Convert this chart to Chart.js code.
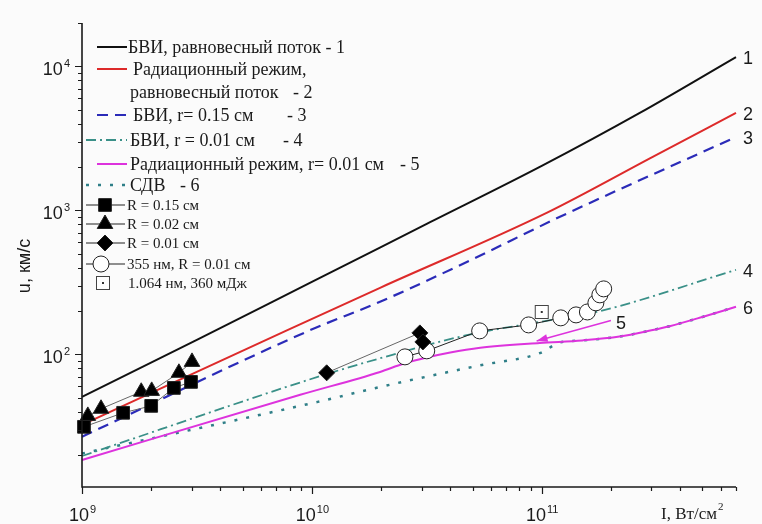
<!DOCTYPE html>
<html>
<head>
<meta charset="utf-8">
<script src="https://cdn.jsdelivr.net/npm/chart.js"></script>
<style>
  html, body { margin: 0; padding: 0; background: #fbfbfb; }
  #wrap { width: 762px; height: 524px; position: relative; }
</style>
</head>
<body>
<div id="wrap"><canvas id="speedChart"></canvas></div>
<script>
// Пределы осей: I, Вт/см2 и u, км/с
const xMin = 1e9, xMax = 7e11;
const yMin = 12, yMax = 2e4;
const xDecades = [9, 10, 11];
const yDecades = [2, 3, 4];

// Расчётные кривые
const bviEqX = [1e9, 3.16e9, 1e10, 3.16e10, 1e11, 2.67e11, 7e11];
const bviEqY = [50.7, 126, 319, 805, 2035, 4750, 11600];

const radEqX = [1e9, 7.87e9, 1.98e10, 1.05e11, 3.04e11, 7e11];
const radEqY = [32.4, 148, 290, 961, 2355, 4750];

const bvi015X = [1e9, 9.9e9, 1.98e10, 4.72e10, 1.2e11, 7e11];
const bvi015Y = [26.8, 148, 232, 438, 902, 3235];

const bvi001X = [1e9, 1.06e10, 1.98e10, 4.72e10, 9.8e10, 1.73e11, 7e11];
const bvi001Y = [19.7, 69.8, 94, 136, 168, 197, 386];

const rad001X = [1e9, 8.9e9, 1.98e10, 2.5e10, 3.16e10, 4e10, 5.4e10, 9.8e10, 1.5e11, 2.18e11, 3e11, 3.6e11, 5e11, 7e11];
const rad001Y = [18.5, 52.4, 75.5, 86, 95, 103, 111, 120, 125, 133, 147, 157, 182, 214];

const sdvX = [1e9, 1.06e10, 1.98e10, 5.4e10, 9.8e10, 1.2e11, 1.5e11, 2.18e11, 3e11, 3.6e11, 5e11, 7e11];
const sdvY = [20.5, 46.8, 59.4, 84, 102, 121, 125, 133, 147, 157, 182, 214];

// Эксперимент
const r015X = [1.02e9, 1.51e9, 2.0e9, 2.51e9, 2.98e9];
const r015Y = [31.4, 39.3, 43.9, 58.5, 64.4];

const r002X = [1.06e9, 1.21e9, 1.81e9, 2.01e9, 2.64e9, 3.01e9];
const r002Y = [37.4, 41.9, 55.0, 55.8, 74.5, 88.7];

const r001X = [1.16e10, 2.95e10, 3.04e10];
const r001Y = [74.5, 141, 122];

const uv355X = [2.54e10, 3.16e10, 5.37e10, 8.77e10, 1.21e11, 1.41e11, 1.58e11, 1.72e11, 1.79e11, 1.86e11];
const uv355Y = [96.1, 105.8, 145.6, 160.2, 179.3, 188, 197, 228, 259, 285];

const ir1064X = [1.0e11];
const ir1064Y = [197];

// Стрелка к кривой 5
const arrow5 = { fromX: 2.0e11, fromY: 172, toX: 9.5e10, toY: 124 };

function pts(xs, ys) {
  return xs.map((x, i) => ({ x: x, y: ys[i] }));
}

// Квадрат с точкой для 1.064
function squareDot() {
  const c = document.createElement('canvas');
  c.width = 16; c.height = 16;
  const g = c.getContext('2d');
  g.fillStyle = '#fff';
  g.fillRect(1, 1, 14, 14);
  g.strokeStyle = '#444';
  g.lineWidth = 1;
  g.strokeRect(1.5, 1.5, 13, 13);
  g.fillStyle = '#333';
  g.fillRect(7, 7, 2, 2);
  return c;
}

const curve = (label, xs, ys, color, width, dash, tag) => ({
  label: label, tag: tag,
  data: pts(xs, ys),
  showLine: true,
  borderColor: color,
  borderWidth: width,
  borderDash: dash,
  pointRadius: 0,
  cubicInterpolationMode: 'monotone',
  order: 2
});

const markers = (label, xs, ys, style, radius, fill, line) => ({
  label: label,
  data: pts(xs, ys),
  showLine: line !== null,
  borderColor: line || 'transparent',
  borderWidth: 1,
  pointStyle: style,
  pointRadius: radius,
  pointBackgroundColor: fill,
  pointBorderColor: '#222',
  pointBorderWidth: 1,
  order: 1
});

const datasets = [
  curve('БВИ, равновесный поток - 1', bviEqX, bviEqY, '#111', 2, [], '1'),
  curve('Радиационный режим, равновесный поток - 2', radEqX, radEqY, '#dd2a2a', 2, [], '2'),
  curve('БВИ, r= 0.15 см - 3', bvi015X, bvi015Y, '#2b2bb8', 2.2, [11, 7], '3'),
  curve('БВИ, r = 0.01 см - 4', bvi001X, bvi001Y, '#3a9088', 1.8, [10, 4, 2, 4], '4'),
  curve('Радиационный режим, r= 0.01 см - 5', rad001X, rad001Y, '#dd33dd', 2, [], '6'),
  curve('СДВ - 6', sdvX, sdvY, '#2f7f88', 2.5, [3, 9], null),
  markers('R = 0.15 см', r015X, r015Y, 'rect', 9, '#000', '#666'),
  markers('R = 0.02 см', r002X, r002Y, 'triangle', 9, '#000', '#666'),
  markers('R = 0.01 см', r001X, r001Y, 'rectRot', 8, '#000', '#666'),
  markers('355 нм, R = 0.01 см', uv355X, uv355Y, 'circle', 8, '#fff', '#222'),
  markers('1.064 нм, 360 мДж', ir1064X, ir1064Y, squareDot(), 8, '#fff', null)
];

function drawPow(ctx, exp, x, y, align) {
  ctx.font = '18px "Liberation Sans", Arial, sans-serif';
  const wb = ctx.measureText('10').width;
  ctx.font = '11px "Liberation Sans", Arial, sans-serif';
  const we = ctx.measureText(String(exp)).width;
  let left = x;
  if (align === 'center') left = x - (wb + we) / 2;
  if (align === 'right') left = x - wb - we;
  ctx.textAlign = 'left';
  ctx.textBaseline = 'alphabetic';
  ctx.font = '18px "Liberation Sans", Arial, sans-serif';
  ctx.fillText('10', left, y);
  ctx.font = '11px "Liberation Sans", Arial, sans-serif';
  ctx.fillText(String(exp), left + wb + 1, y - 8);
}

// Оси, деления, подписи
const axesPlugin = {
  id: 'axesPlugin',
  afterDatasetsDraw(chart) {
    const ctx = chart.ctx, a = chart.chartArea;
    const xs = chart.scales.x, ys = chart.scales.y;
    ctx.save();
    ctx.strokeStyle = '#1a1a1a';
    ctx.fillStyle = '#1a1a1a';
    ctx.lineWidth = 1.6;
    ctx.beginPath();
    ctx.moveTo(a.left, a.top);
    ctx.lineTo(a.left, a.bottom);
    ctx.lineTo(a.right, a.bottom);
    ctx.stroke();

    ctx.lineWidth = 1.2;
    ctx.beginPath();
    for (let d = 9; d <= 11; d++) {
      for (let m = 1; m <= 9; m++) {
        const v = m * Math.pow(10, d);
        if (v < xMin || v > xMax * 1.001) continue;
        const px = Math.round(xs.getPixelForValue(v)) + 0.5;
        ctx.moveTo(px, a.bottom);
        ctx.lineTo(px, a.bottom + (m === 1 ? 7 : 4));
      }
    }
    for (let d = 1; d <= 4; d++) {
      for (let m = 1; m <= 9; m++) {
        const v = m * Math.pow(10, d);
        if (v < yMin || v > yMax * 1.001) continue;
        const py = Math.round(ys.getPixelForValue(v)) + 0.5;
        ctx.moveTo(a.left, py);
        ctx.lineTo(a.left - (m === 1 ? 7 : 4), py);
      }
    }
    ctx.stroke();

    xDecades.forEach(d => drawPow(ctx, d, xs.getPixelForValue(Math.pow(10, d)), a.bottom + 34, 'center'));
    yDecades.forEach(d => drawPow(ctx, d, a.left - 13, ys.getPixelForValue(Math.pow(10, d)) + 9, 'right'));

    // Подписи осей
    ctx.save();
    ctx.translate(30, 266);
    ctx.rotate(-Math.PI / 2);
    ctx.font = '18px "Liberation Sans", Arial, sans-serif';
    ctx.textAlign = 'center';
    ctx.textBaseline = 'alphabetic';
    ctx.fillText('u, км/с', 0, 0);
    ctx.restore();

    ctx.font = '17px "Liberation Serif", "Times New Roman", serif';
    ctx.textAlign = 'left';
    ctx.textBaseline = 'alphabetic';
    ctx.fillText('I, Вт/см', 661, 519);
    const w = ctx.measureText('I, Вт/см').width;
    ctx.font = '11px "Liberation Serif", "Times New Roman", serif';
    ctx.fillText('2', 661 + w + 1, 510);

    // Номера кривых у правого края
    ctx.font = '18px "Liberation Sans", Arial, sans-serif';
    ctx.textBaseline = 'middle';
    chart.data.datasets.forEach(ds => {
      if (!ds.tag) return;
      const last = ds.data[ds.data.length - 1];
      ctx.fillText(ds.tag, a.right + 7, ys.getPixelForValue(last.y) + 2);
    });

    // Стрелка и метка 5
    const x0 = xs.getPixelForValue(arrow5.fromX), y0 = ys.getPixelForValue(arrow5.fromY);
    const x1 = xs.getPixelForValue(arrow5.toX), y1 = ys.getPixelForValue(arrow5.toY);
    ctx.strokeStyle = '#dd33dd';
    ctx.fillStyle = '#dd33dd';
    ctx.lineWidth = 1.5;
    ctx.beginPath();
    ctx.moveTo(x0, y0);
    ctx.lineTo(x1, y1);
    ctx.stroke();
    const ang = Math.atan2(y1 - y0, x1 - x0);
    ctx.beginPath();
    ctx.moveTo(x1, y1);
    ctx.lineTo(x1 - 11 * Math.cos(ang) + 4 * Math.sin(ang), y1 - 11 * Math.sin(ang) - 4 * Math.cos(ang));
    ctx.lineTo(x1 - 11 * Math.cos(ang) - 4 * Math.sin(ang), y1 - 11 * Math.sin(ang) + 4 * Math.cos(ang));
    ctx.closePath();
    ctx.fill();
    ctx.fillStyle = '#1a1a1a';
    ctx.font = '18px "Liberation Sans", Arial, sans-serif';
    ctx.fillText('5', x0 + 5, y0 + 4);
    ctx.restore();
  }
};

// Легенда в левом верхнем углу
const legendPlugin = {
  id: 'legendPlugin',
  afterDraw(chart) {
    const ctx = chart.ctx;
    const ds = chart.data.datasets;
    const big = '18px "Liberation Serif", "Times New Roman", serif';
    const small = '15px "Liberation Serif", "Times New Roman", serif';
    ctx.save();
    ctx.fillStyle = '#1a1a1a';
    ctx.textBaseline = 'middle';
    ctx.textAlign = 'left';

    function sample(d, x0, x1, y) {
      ctx.save();
      ctx.strokeStyle = d.borderColor;
      ctx.lineWidth = d.borderWidth;
      ctx.setLineDash(d.borderDash || []);
      ctx.beginPath();
      ctx.moveTo(x0, y);
      ctx.lineTo(x1, y);
      ctx.stroke();
      ctx.restore();
    }
    function text(t, x, y, font) {
      ctx.font = font;
      ctx.fillText(t, x, y);
    }

    sample(ds[0], 97, 127, 47);
    text('БВИ, равновесный поток - 1', 128, 48, big);
    sample(ds[1], 97, 127, 69);
    text('Радиационный режим,', 133, 70, big);
    text('равновесный поток', 130, 93, big);
    text('- 2', 293, 93, big);
    sample(ds[2], 97, 127, 115);
    text('БВИ, r= 0.15 см', 133, 116, big);
    text('- 3', 287, 116, big);
    sample(ds[3], 86, 127, 140);
    text('БВИ, r = 0.01 см', 130, 141, big);
    text('- 4', 283, 141, big);
    sample(ds[4], 97, 127, 164);
    text('Радиационный режим, r= 0.01 см', 130, 165, big);
    text('- 5', 400, 165, big);
    sample(ds[5], 86, 127, 185);
    text('СДВ', 130, 186, big);
    text('- 6', 180, 186, big);

    const rows = [[6, 205], [7, 224], [8, 243], [9, 264]];
    rows.forEach(([i, y]) => {
      const d = ds[i];
      ctx.save();
      ctx.strokeStyle = '#222';
      ctx.lineWidth = 1.2;
      ctx.beginPath();
      ctx.moveTo(86, y);
      ctx.lineTo(125, y);
      ctx.stroke();
      ctx.fillStyle = d.pointBackgroundColor;
      ctx.strokeStyle = d.pointBorderColor;
      ctx.lineWidth = 1;
      Chart.helpers.drawPoint(ctx, { pointStyle: d.pointStyle, radius: d.pointRadius, borderWidth: 1, rotation: 0 }, i === 9 ? 101 : 105, y);
      ctx.restore();
      text(d.label, 127, y + 1, small);
    });
    Chart.helpers.drawPoint(ctx, { pointStyle: ds[10].pointStyle, radius: 8, borderWidth: 1, rotation: 0 }, 103, 283);
    ctx.fillStyle = '#1a1a1a';
    text(ds[10].label, 128, 284, small);
    ctx.restore();
  }
};

new Chart(document.getElementById('speedChart'), {
  type: 'scatter',
  data: { datasets: datasets },
  options: {
    responsive: true,
    maintainAspectRatio: false,
    animation: false,
    events: [],
    layout: { padding: { left: 82, top: 23, right: 26, bottom: 37 } },
    elements: { line: { borderCapStyle: 'butt' } },
    datasets: { scatter: { clip: false } },
    scales: {
      x: { type: 'logarithmic', min: xMin, max: xMax, display: false },
      y: { type: 'logarithmic', min: yMin, max: yMax, display: false }
    },
    plugins: {
      legend: { display: false },
      tooltip: { enabled: false }
    }
  },
  plugins: [axesPlugin, legendPlugin]
});
</script>
</body>
</html>
